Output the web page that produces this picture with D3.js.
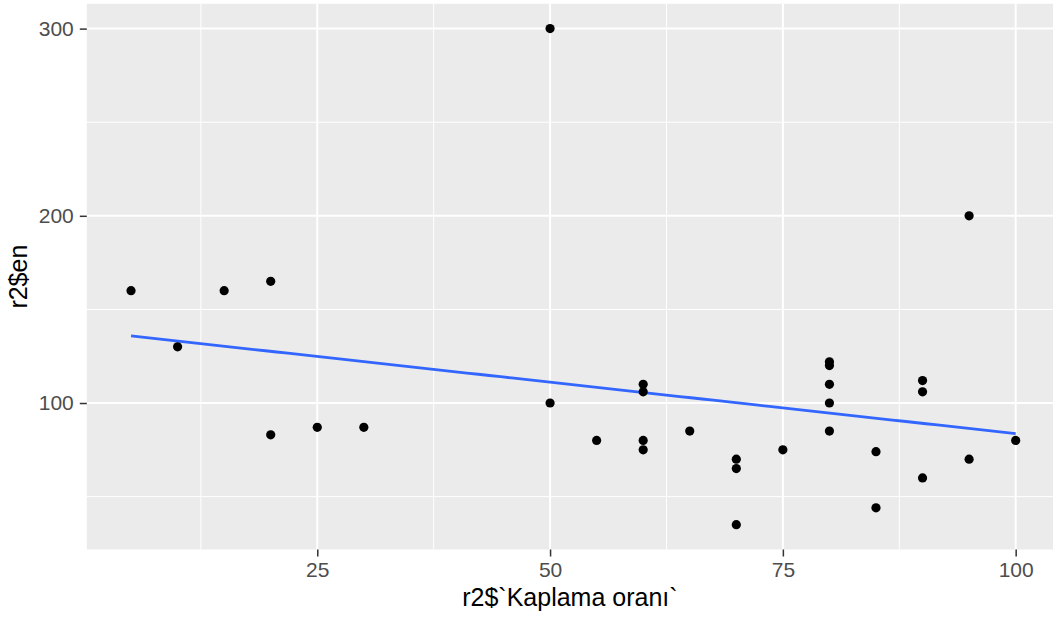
<!DOCTYPE html>
<html>
<head>
<meta charset="utf-8">
<script src="https://cdn.jsdelivr.net/npm/d3@7"></script>
<style>
  body { margin: 0; background: #fff; }
  text { font-family: "Liberation Sans", Arial, sans-serif; }
</style>
</head>
<body>
<div id="chart"></div>
<script>
// Kaplama orani (x) vs en (y)
var kaplama = [5, 10, 15, 20, 20, 25, 30, 50, 50, 55, 60, 60, 60, 60, 65, 70, 70, 70,
  75, 80, 80, 80, 80, 80, 85, 85, 90, 90, 90, 95, 95, 100];
var en = [160, 130, 160, 165, 83, 87, 87, 300, 100, 80, 110, 106, 80, 75, 85, 70, 65, 35,
  75, 122, 120, 110, 100, 85, 74, 44, 112, 106, 60, 200, 70, 80];
var xTicks = [25, 50, 75, 100];
var yTicks = [100, 200, 300];
var xMinor = [12.5, 37.5, 62.5, 87.5];
var yMinor = [50, 150, 250];

var width = 1053;
var height = 621;

var svg = d3.select("#chart").append("svg")
  .attr("width", width)
  .attr("height", height);

// ggplot style 5% expansion
var xExt = d3.extent(kaplama), yExt = d3.extent(en);
var xPad = (xExt[1] - xExt[0]) * 0.05, yPad = (yExt[1] - yExt[0]) * 0.05;

var x = d3.scaleLinear()
  .domain([xExt[0] - xPad, xExt[1] + xPad])
  .range([86.8, 1059.9]);

var y = d3.scaleLinear()
  .domain([yExt[0] - yPad, yExt[1] + yPad])
  .range([549.5, 3.8]);

svg.append("rect")
  .attr("x", x.range()[0])
  .attr("y", y.range()[1])
  .attr("width", width - x.range()[0])
  .attr("height", y.range()[0] - y.range()[1])
  .attr("fill", "#EBEBEB");

var grid = svg.append("g");

grid.selectAll(".minor-x").data(xMinor).enter().append("line")
  .attr("x1", function (d) { return x(d) }).attr("x2", function (d) { return x(d) })
  .attr("y1", y.range()[0]).attr("y2", y.range()[1])
  .attr("stroke", "#fff").attr("stroke-width", 1);

grid.selectAll(".minor-y").data(yMinor).enter().append("line")
  .attr("y1", function (d) { return y(d) }).attr("y2", function (d) { return y(d) })
  .attr("x1", x.range()[0]).attr("x2", width)
  .attr("stroke", "#fff").attr("stroke-width", 1);

grid.selectAll(".major-x").data(xTicks).enter().append("line")
  .attr("x1", function (d) { return x(d) }).attr("x2", function (d) { return x(d) })
  .attr("y1", y.range()[0]).attr("y2", y.range()[1])
  .attr("stroke", "#fff").attr("stroke-width", 2);

grid.selectAll(".major-y").data(yTicks).enter().append("line")
  .attr("y1", function (d) { return y(d) }).attr("y2", function (d) { return y(d) })
  .attr("x1", x.range()[0]).attr("x2", width)
  .attr("stroke", "#fff").attr("stroke-width", 2);

// axes
var xAxis = d3.axisBottom(x).tickValues(xTicks).tickSize(7).tickPadding(6);
var gx = svg.append("g")
  .attr("transform", "translate(0," + y.range()[0] + ")")
  .call(xAxis);
gx.select(".domain").remove();
gx.selectAll(".tick line").attr("stroke", "#333").attr("stroke-width", 1.5);
gx.selectAll(".tick text").attr("fill", "#4D4D4D").style("font-size", "21px")
  .style("font-family", "Liberation Sans, Arial, sans-serif");

var yAxis = d3.axisLeft(y).tickValues(yTicks).tickSize(7).tickPadding(6);
var gy = svg.append("g")
  .attr("transform", "translate(" + x.range()[0] + ",0)")
  .call(yAxis);
gy.select(".domain").remove();
gy.selectAll(".tick line").attr("stroke", "#333").attr("stroke-width", 1.5);
gy.selectAll(".tick text").attr("fill", "#4D4D4D").style("font-size", "21px")
  .style("font-family", "Liberation Sans, Arial, sans-serif");

// linear fit (geom_smooth method = "lm")
var mx = d3.mean(kaplama), my = d3.mean(en);
var sxy = d3.sum(kaplama, function (d, i) { return (d - mx) * (en[i] - my) });
var sxx = d3.sum(kaplama, function (d) { return (d - mx) * (d - mx) });
var slope = sxy / sxx, intercept = my - slope * mx;

var fitX = d3.range(0, 80).map(function (i) { return xExt[0] + (xExt[1] - xExt[0]) * i / 79 });
var line = d3.line()
  .x(function (d) { return x(d) })
  .y(function (d) { return y(intercept + slope * d) });

svg.append("path")
  .datum(fitX)
  .attr("d", line)
  .attr("fill", "none")
  .attr("stroke", "#3366FF")
  .attr("stroke-width", 2.8);

svg.selectAll(".pt")
  .data(kaplama)
  .enter()
  .append("circle")
  .attr("class", "pt")
  .attr("cx", function (d) { return x(d) })
  .attr("cy", function (d, i) { return y(en[i]) })
  .attr("r", 4.6)
  .attr("fill", "#000");

// titles
svg.append("text")
  .attr("x", (x.range()[0] + width) / 2)
  .attr("y", 606)
  .attr("text-anchor", "middle")
  .style("font-size", "25px")
  .attr("fill", "#000")
  .text("r2$`Kaplama oranı`");

svg.append("text")
  .attr("transform", "translate(27," + (y.range()[0] + y.range()[1]) / 2 + ") rotate(-90)")
  .attr("text-anchor", "middle")
  .style("font-size", "25px")
  .attr("fill", "#000")
  .text("r2$en");
</script>
</body>
</html>
